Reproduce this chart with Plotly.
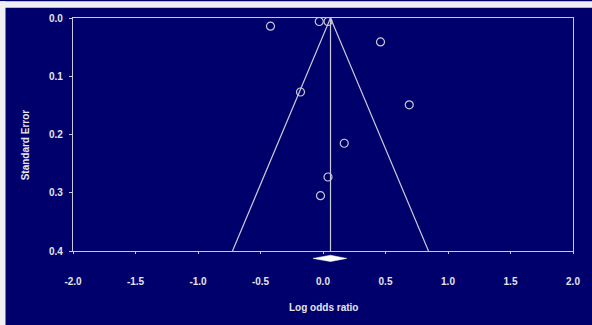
import plotly.graph_objects as go

# Study data (log odds ratio, standard error)
log_or = [-0.42, -0.03, 0.04, 0.46, -0.18, 0.69, 0.17, 0.04, -0.02]
std_err = [0.014, 0.006, 0.006, 0.041, 0.127, 0.149, 0.215, 0.273, 0.305]

# Pooled estimate and its confidence interval
pooled = 0.06
ci_low = -0.08
ci_high = 0.19
se_max = 0.4
z = 1.96

x_ticks = [-2.0, -1.5, -1.0, -0.5, 0.0, 0.5, 1.0, 1.5, 2.0]
y_ticks = [0.0, 0.1, 0.2, 0.3, 0.4]

NAVY = "#00006c"
LINE = "#c9c9d6"
TEXT = "#e4e4ec"

W, H = 592, 325
L, R, T, B = 73, 19, 15, 74
pw = W - L - R
ph = H - T - B

def px_x(px):
    return (px - L) / pw

def px_y(py):
    return (H - B - py) / ph

fig = go.Figure()

# funnel
fig.add_trace(go.Scatter(
    x=[pooled - z * se_max, pooled, pooled + z * se_max],
    y=[se_max, 0, se_max],
    mode="lines", line=dict(color=LINE, width=1.2), hoverinfo="skip"))
# vertical line at pooled estimate
fig.add_trace(go.Scatter(
    x=[pooled, pooled], y=[0, se_max],
    mode="lines", line=dict(color=LINE, width=1.2), hoverinfo="skip"))
# studies
fig.add_trace(go.Scatter(
    x=log_or, y=std_err, mode="markers", cliponaxis=False,
    marker=dict(symbol="circle-open", size=8, color=LINE, line=dict(width=1.2, color=LINE))))

# diamond for pooled estimate (below axis)
yc = px_y(258.5)
dh = 3.2 / ph
fig.add_shape(type="path", xref="x", yref="paper",
              path=f"M {ci_low} {yc} L {pooled} {yc + dh} L {ci_high} {yc} L {pooled} {yc - dh} Z",
              fillcolor="white", line=dict(color="white", width=0.5))

# white frame strips at top and left
fig.add_shape(type="rect", xref="paper", yref="paper",
              x0=px_x(-2), x1=px_x(W + 2), y0=px_y(4.5), y1=px_y(-2),
              fillcolor="#f0f0f4", line=dict(width=0), layer="above")
fig.add_shape(type="rect", xref="paper", yref="paper",
              x0=px_x(-2), x1=px_x(5.5), y0=px_y(H + 2), y1=px_y(-2),
              fillcolor="#f0f0f4", line=dict(width=0), layer="above")

font_tick = dict(family="Liberation Sans, Arial, sans-serif", size=10, color=TEXT, weight="bold")
font_title = dict(family="Liberation Sans, Arial, sans-serif", size=10, color=TEXT, weight="bold")

fig.add_annotation(text="Standard Error", xref="paper", yref="paper",
                   x=px_x(25), y=px_y(144), xanchor="center", yanchor="middle",
                   showarrow=False, textangle=-90, font=font_title)
fig.add_annotation(text="Log odds ratio", xref="paper", yref="paper",
                   x=px_x(323), y=px_y(308), xanchor="center", yanchor="middle",
                   showarrow=False, font=font_title)

fig.update_layout(
    width=W, height=H,
    margin=dict(l=L, r=R, t=T, b=B),
    paper_bgcolor=NAVY, plot_bgcolor=NAVY,
    showlegend=False,
    xaxis=dict(range=[-2, 2], tickvals=x_ticks, ticktext=[f"{v:.1f}" for v in x_ticks],
               showgrid=False, zeroline=False, showline=True, linecolor=LINE, linewidth=1.2,
               mirror=True, ticks="outside", ticklen=2, tickcolor=LINE,
               tickfont=font_tick, ticklabelstandoff=19),
    yaxis=dict(range=[0.4, 0], tickvals=y_ticks, ticktext=[f"{v:.1f}" for v in y_ticks],
               showgrid=False, zeroline=False, showline=True, linecolor=LINE, linewidth=1.2,
               mirror=True, ticks="outside", ticklen=3, tickcolor=LINE,
               tickfont=font_tick, ticklabelstandoff=4),
)

fig.write_html("out.html", config={"displayModeBar": False},
               post_script="document.body.style.margin='0px';document.body.style.overflow='hidden';")
